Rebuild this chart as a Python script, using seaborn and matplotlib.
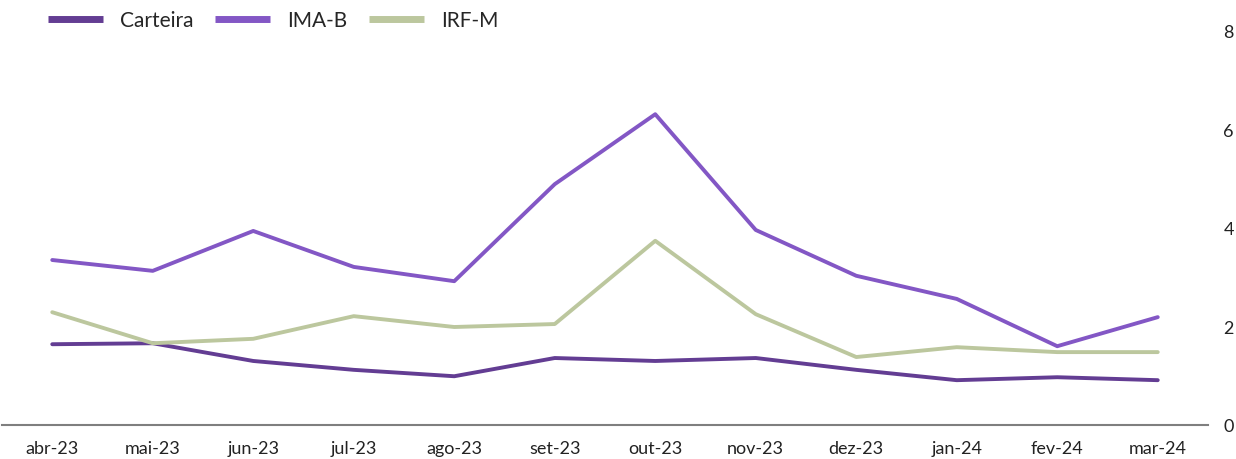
import pandas as pd
import numpy as np
import matplotlib
matplotlib.use("Agg")
import matplotlib.pyplot as plt
import seaborn as sns

# data
meses = ["abr-23", "mai-23", "jun-23", "jul-23", "ago-23", "set-23",
         "out-23", "nov-23", "dez-23", "jan-24", "fev-24", "mar-24"]
carteira = [1.64, 1.66, 1.30, 1.12, 0.99, 1.36, 1.30, 1.36, 1.12, 0.91, 0.97, 0.91]
ima_b = [3.35, 3.13, 3.94, 3.21, 2.92, 4.89, 6.31, 3.96, 3.03, 2.56, 1.60, 2.19]
irf_m = [2.29, 1.66, 1.75, 2.21, 1.99, 2.05, 3.74, 2.25, 1.38, 1.58, 1.48, 1.48]

series = ["Carteira", "IMA-B", "IRF-M"]
cores = ["#633d93", "#8357c5", "#bcc79e"]

df = pd.DataFrame({"mes": meses, "Carteira": carteira, "IMA-B": ima_b, "IRF-M": irf_m})
df["pos"] = np.arange(len(meses))
long_df = df.melt(id_vars=["mes", "pos"], value_vars=series, var_name="serie", value_name="valor")

sns.set_style("white")
plt.rcParams["font.family"] = ["Lato", "DejaVu Sans"]

fig = plt.figure(figsize=(12.36, 4.6), dpi=100)
ax = fig.add_axes([2 / 1236, 1 - 426 / 460, 1206 / 1236, 394 / 460])

sns.lineplot(data=long_df, x="pos", y="valor", hue="serie", hue_order=series,
             palette=cores, linewidth=2.8, ax=ax, legend=False)

ax.set_xlim(-0.5, len(meses) - 0.5)
ax.set_ylim(0, 8)
ax.set_xticks(df["pos"])
ax.set_xticklabels(meses, fontsize=13, color="#222222")
ax.set_yticks([0, 2, 4, 6, 8])
ax.yaxis.tick_right()
ax.tick_params(axis="y", labelsize=13, colors="#222222", length=0, pad=11)
ax.tick_params(axis="x", length=0, pad=11)
ax.set_xlabel("")
ax.set_ylabel("")

for s in ["top", "left", "right"]:
    ax.spines[s].set_visible(False)
ax.spines["bottom"].set_color("#7f7f7f")
ax.spines["bottom"].set_linewidth(1.5)

handles = [plt.Line2D([0], [0], color=c, lw=5, solid_capstyle="butt") for c in cores]
fig.legend(handles, series, loc="upper left", bbox_to_anchor=(0.024, 1.016),
           ncol=3, frameon=False, fontsize=15, handlelength=2.64,
           columnspacing=1.05, handletextpad=0.8)

fig.savefig("out.png", dpi=100)
